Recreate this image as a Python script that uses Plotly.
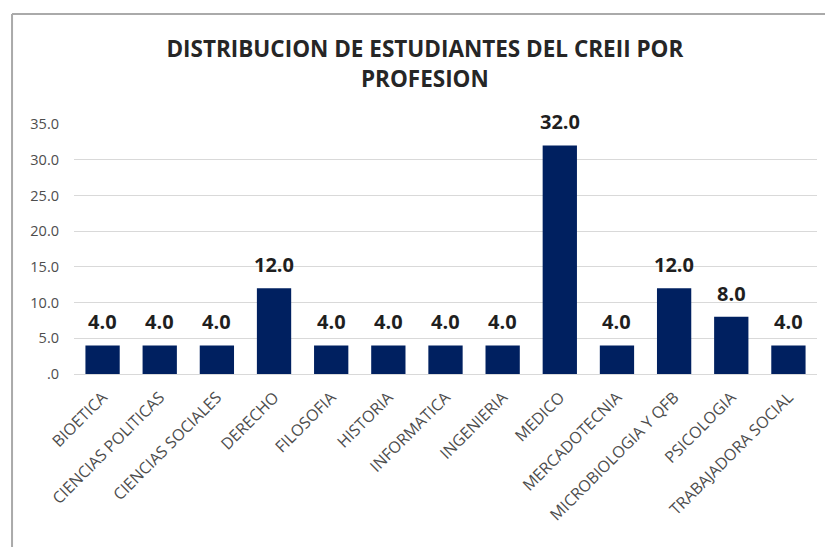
import plotly.graph_objects as go

categories = ["BIOETICA", "CIENCIAS POLITICAS", "CIENCIAS SOCIALES", "DERECHO", "FILOSOFIA",
              "HISTORIA", "INFORMATICA", "INGENIERIA", "MEDICO", "MERCADOTECNIA",
              "MICROBIOLOGIA Y QFB", "PSICOLOGIA", "TRABAJADORA SOCIAL"]
values = [4.0, 4.0, 4.0, 12.0, 4.0, 4.0, 4.0, 4.0, 32.0, 4.0, 12.0, 8.0, 4.0]
y_ticks = [0, 5, 10, 15, 20, 25, 30, 35]
y_tick_labels = [".0", "5.0", "10.0", "15.0", "20.0", "25.0", "30.0", "35.0"]

font = "Open Sans"

fig = go.Figure(go.Bar(
    x=categories, y=values,
    marker=dict(color="#002060", line=dict(width=0)),
    cliponaxis=False,
))

for c, v in zip(categories, values):
    fig.add_annotation(x=c, y=v, xref="x", yref="y", text=f"<b>{v:.1f}</b>",
                       showarrow=False, yanchor="bottom", yshift=8,
                       font=dict(family=font, size=20, color="#1f1f1f"))

fig.update_layout(
    width=825, height=547,
    margin=dict(l=74, r=8, t=124, b=173, autoexpand=False),
    paper_bgcolor="white", plot_bgcolor="white",
    bargap=0.4,
    showlegend=False,
    title=dict(text="<b>DISTRIBUCION DE ESTUDIANTES DEL CREII POR<br>PROFESION</b>",
               x=0.515, xref="container", xanchor="center", y=0.895, yanchor="top",
               font=dict(family=font, size=22.5, color="#262626")),
    xaxis=dict(tickangle=-45, tickfont=dict(family=font, size=16, color="#4d4d4d"),
               showgrid=False, showline=False, ticks="", automargin=False,
               ticklabelstandoff=10),
    yaxis=dict(range=[0, 35], tickvals=y_ticks, ticktext=y_tick_labels,
               tickfont=dict(family=font, size=14.5, color="#4d4d4d"),
               showgrid=True, gridcolor="#d9d9d9", gridwidth=1,
               zeroline=True, zerolinecolor="#d9d9d9", zerolinewidth=1,
               showline=False, ticks="", ticklabelstandoff=14, automargin=False),
    shapes=[
        dict(type="line", xref="paper", yref="paper", x0=-0.0834, x1=1.2, y0=1.44, y1=1.44,
             line=dict(color="#aaaaaa", width=2), layer="above"),
        dict(type="line", xref="paper", yref="paper", x0=-0.0834, x1=-0.0834, y0=-1.2, y1=1.44,
             line=dict(color="#aaaaaa", width=2), layer="above"),
    ],
)

fig.write_html("out.html", config={"displayModeBar": False},
               post_script="document.body.style.margin='0px';")
